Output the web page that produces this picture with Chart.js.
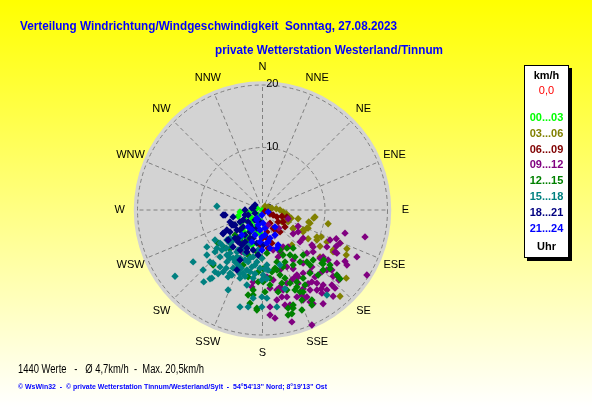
<!DOCTYPE html>
<html lang="de">
<head>
<meta charset="UTF-8">
<title>Verteilung Windrichtung/Windgeschwindigkeit</title>
<script src="https://cdn.jsdelivr.net/npm/chart.js@4.4.0/dist/chart.umd.min.js"></script>
<style>
html,body{margin:0;padding:0;background:#fff}
canvas{display:block}
</style>
</head>
<body>
<canvas id="wind" width="592" height="407"></canvas>
<script>
// Texte
const title1 = 'Verteilung Windrichtung/Windgeschwindigkeit  Sonntag, 27.08.2023';
const title2 = 'private Wetterstation Westerland/Tinnum';
const foot1 = '1440 Werte   -   Ø 4,7km/h  -  Max. 20,5km/h';
const foot2 = "© WsWin32  -  © private Wetterstation Tinnum/Westerland/Sylt  -  54°54'13'' Nord; 8°19'13'' Ost";

const compass = ['N','NNE','NE','ENE','E','ESE','SE','SSE','S','SSW','SW','WSW','W','WNW','NW','NNW'];
const ringTicks = [0, 10, 20];
const hourLabels = ['00...03','03...06','06...09','09...12','12...15','15...18','18...21','21...24'];
const hourColors = ['#00ff00','#808000','#800000','#800080','#008000','#008080','#000080','#0000ff'];

// Werte als [Ost, Nord] in km/h
const w00_03 = [[-3.9,-1.0],[-2.8,-1.6],[-0.7,-0.8],[-3.1,-2.9],[-1.2,-4.0],[-2.8,-4.3],[-1.5,0],[-0.9,0.3],[0,0],
  [-1.7,-1.3],[-1.2,-2.7],[-0.4,-3.7],[-2.5,-4.5],[-1.7,-5.6],[-2.2,-0.5],[-0.3,-1.8],[-3.5,-2.0],[-2.0,-3.3],
  [-3.6,-0.3],[-2.5,-0.5],[-1.7,-1.9],[-3.0,-3.5],[-1.0,-3.2],[-2.2,-4.5]];
const w03_06 = [[0.4,0.6],[0.9,0.5],[1.5,0.3],[2.2,0.2],[2.8,0],[3.3,-0.3],[3.8,-0.6],[4.2,-1.0],[4.6,-1.3],[3.6,-1.6],
  [3.1,-1.9],[4.1,-1.9],[5.7,-1.4],[7.4,-1.9],[8.2,-1.3],[10.5,-2.2],[4.9,-2.9],[7.1,-2.9],[6.5,-3.5],[8.7,-4.3],
  [9.4,-4.3],[7.3,-4.6],[4.7,-5.6],[9.2,-5.8],[12.4,-5.3],[11.3,-6.7],[13.5,-6.2],[13.4,-7.2],[9.2,-7.5],[13.4,-10.9],
  [12.4,-13.8],[10.3,-5.1],[8.4,-1.1],[7.6,-2.1],[4.9,-3.0],[6.5,-3.2],[7.3,-2.9],[8.7,-4.8],[11.3,-6.4]];
const w06_09 = [[0.4,-0.2],[1.2,-0.6],[1.7,-0.8],[2.3,-1.1],[3.1,-1.0],[3.9,-1.1],[3.3,-1.9],[2.5,-1.9],[1.2,-2.1],
  [2.0,-3.2],[1.7,-2.9],[0.7,-3.5],[0,-4.5],[0.7,-4.5],[-0.4,-5.6],[0.9,-6.1],[1.5,-5.3],[2.8,-3.5],[-3.0,-5.9],[3.6,-2.7]];
const w09_12 = [[4.1,-1.4],[5.7,-2.6],[4.9,-3.8],[2.6,-2.9],[6.0,-5.1],[13.2,-3.7],[16.4,-4.3],[11.8,-4.6],[11.8,-5.8],
  [10.3,-5.9],[11.6,-6.7],[8.1,-5.9],[7.1,-6.9],[13.2,-8.2],[2.0,-4.0],[4.1,-5.9],[2.8,-6.7],[16.7,-10.4],[13.5,-8.8],
  [11.9,-8.5],[9.7,-7.5],[10.3,-9.6],[8.7,-11.7],[8.7,-12.8],[10.3,-12.8],[11.3,-13.8],[7.6,-14.7],[6.5,-14.4],
  [5.5,-13.9],[3.9,-13.9],[3.1,-13.9],[2.3,-12.8],[2.8,-12.3],[3.3,-12.8],[3.9,-11.7],[5.2,-10.7],[6.5,-10.1],
  [7.6,-9.9],[7.9,-9.1],[6.5,-8.5],[4.9,-8.0],[3.9,-9.1],[2.8,-9.6],[1.7,-11.2],[0.7,-10.7],[1.2,-12.5],[2.3,-14.4],
  [3.6,-15.2],[1.2,-16.8],[2.0,-17.3],[4.7,-17.9],[7.9,-18.4],[4.4,-15.2],[-1.7,-12.3],[-1.5,-11.5],[-3.3,-6.7],
  [0.9,-2.4],[1.7,-6.4],[2.5,-7.5],[3.3,-5.9],[10.8,-4.8],[15.1,-7.5],[10.5,-8.0],[11.3,-10.6],[12.2,-11.2],
  [11.1,-12.0],[9.4,-12.6],[9.7,-15.0],[6.3,-13.6],[6.5,-12.6],[5.7,-11.7],[4.7,-11.2],[1.2,-15.5],[8.1,-15.0],
  [9.5,-9.9],[8.4,-10.7],[7.3,-11.8],[4.9,-9.4],[5.7,-10.7],[11.9,-6.9],[12.1,-10.7],[11.6,-12.5],[9.7,-12.0],
  [7.9,-11.5],[7.6,-12.8],[9.5,-13.3],[7.1,-13.9],[5.5,-10.4],[7.9,-5.6],[8.1,-6.7],[6.5,-4.5],[5.7,-3.5],
  [9.2,-7.7],[11.1,-9.6],[12.4,-5.3]];
const w12_15 = [[-7.1,-5.3],[-6.0,-6.1],[-5.2,-6.2],[-3.9,-7.7],[-2.3,-7.2],[-0.9,-6.7],[-0.1,-7.7],[0.7,-6.9],
  [2.3,-8.3],[3.3,-7.2],[3.9,-6.1],[4.9,-6.1],[5.2,-7.5],[6.5,-7.2],[7.1,-8.3],[8.1,-8.0],[9.5,-8.5],[9.8,-8.0],
  [10.8,-8.8],[11.9,-10.4],[12.4,-11.0],[9.7,-9.6],[8.9,-10.4],[7.6,-10.1],[6.5,-10.9],[5.5,-12.3],[4.4,-11.7],
  [3.6,-10.9],[2.8,-10.4],[2.3,-9.6],[1.2,-10.9],[0.1,-11.5],[-0.7,-11.5],[-1.5,-12.8],[-2.3,-13.6],[-2.0,-14.9],
  [-0.9,-15.7],[0.4,-13.1],[4.1,-15.7],[4.9,-15.7],[6.3,-14.4],[6.5,-13.1],[7.9,-14.4],[4.7,-16.6],[-3.6,-4.8],
  [-2.5,-5.1],[-7.9,-8.8],[-3.1,-8.8],[-2.3,-10.7],[-1.5,-13.6],[-0.9,-16.0],[-0.7,-9.9],[0.1,-9.4],[1.5,-9.9],
  [3.9,-12.8],[4.9,-15.2],[4.1,-16.8],[6.3,-16.0],[7.9,-15.2],[6.0,-13.1],[9.7,-8.6],[10.8,-9.4],[3.3,-9.1],
  [5.5,-11.5],[-4.4,-4.0],[-2.0,-3.5],[2.8,-6.4],[4.4,-7.2],[3.6,-8.3],[4.9,-8.8],[6.0,-8.3],[2.0,-9.3],
  [3.1,-11.7],[5.2,-12.8],[6.8,-12.0],[7.6,-8.8],[1.2,-12.0],[2.5,-13.1]];
const w15_18 = [[-7.3,0.6],[-8.9,-5.9],[-8.9,-7.2],[-8.4,-8.3],[-11.1,-8.3],[-7.9,-8.5],[-9.5,-9.6],[-8.1,-10.9],
  [-14.0,-10.6],[-6.8,-9.1],[-6.3,-9.9],[-5.2,-10.1],[-4.7,-9.3],[-3.9,-8.8],[-5.7,-8.3],[-5.2,-7.7],[-4.1,-7.5],
  [-3.6,-7.7],[-2.8,-8.0],[-2.0,-7.7],[-1.5,-7.5],[-0.7,-7.2],[-0.9,-8.3],[-1.7,-9.1],[-2.5,-9.6],[-3.1,-10.1],
  [-3.6,-10.9],[-1.5,-10.9],[-0.1,-11.2],[-0.1,-13.9],[0.7,-14.1],[-1.5,-14.1],[-3.6,-15.5],[-5.5,-12.8],[0.7,-8.8],
  [-5.7,-4.8],[-5.2,-5.3],[-4.7,-4.8],[-6.5,-6.4],[-7.6,-6.7],[-7.3,-6.1],[-6.5,-5.6],[-5.2,-4.5],[-3.6,-4.5],
  [-5.2,-6.9],[-4.1,-6.7],[-6.8,-7.5],[-2.8,-6.9],[-0.7,-6.4],[-9.4,-11.5],[-7.6,-9.9],[-5.5,-10.7],[-4.9,-10.4],
  [-4.1,-9.4],[-2.5,-12.0],[-3.6,-10.2],[-2.3,-15.5],[-0.1,-15.5],[-1.2,-10.2],[0.1,-10.4],[0.4,-9.4],[0.7,-11.0],
  [3.6,-12.6],[2.3,-15.5],[10.3,-13.6],[2.8,-8.8],[-8.4,-11.0],[-7.6,-4.8],[-6.8,-5.3],[-5.8,-6.1],[-4.9,-5.9],
  [-3.9,-6.4],[-3.1,-6.1],[-2.3,-8.3],[-1.2,-8.8],[-0.4,-9.3],[-4.4,-8.3],[-3.4,-9.3],[-2.8,-10.6],[-2.0,-9.9],
  [-5.8,-9.3],[-7.1,-10.2],[-4.7,-7.7],[-5.7,-7.2],[-2.3,-5.6],[-0.1,-7.7],[0.9,-9.6]];
const w18_21 = [[-1.5,0.3],[-6.0,-0.8],[-3.6,-1.9],[-4.4,-2.4],[-5.2,-3.5],[-6.3,-3.8],[-4.1,-3.2],[-3.1,-2.7],
  [-2.3,-1.9],[-2.8,-4.0],[-3.9,-5.1],[-3.3,-5.6],[-2.0,-4.5],[-0.9,-2.9],[-0.4,-1.9],[-1.7,-2.9],[-0.9,-5.3],
  [-1.5,-6.4],[-5.7,-3.2],[-4.9,-2.4],[-3.9,-4.5],[-4.7,-5.9],[-3.1,-1.6],[-2.8,0.0],[-1.7,0.3],[-1.2,-0.5],
  [-2.0,-3.5],[-1.5,-4.5],[0.1,-5.6],[-2.5,-6.1],[-3.6,-6.4],[-0.7,-7.2],[-4.1,-9.6],[-2.5,-6.7],[-5.5,-4.8],
  [-4.7,-1.1],[-2.3,-0.8],[-1.2,0.8],[-6.3,-0.8],[-4.7,-2.4],[-6.3,-3.7],[-5.5,-4.8],[-3.6,-8.0],[-2.8,-0.8],
  [-3.6,-3.2],[-4.4,-4.5],[-2.0,-2.4],[-2.8,-5.1],[-1.2,-1.6],[-5.2,-1.9]];
const w21_24 = [[-0.9,-1.6],[-0.7,-2.4],[-0.4,-3.2],[0.1,-2.1],[0.4,-4.0],[0.9,-5.1],[1.2,-6.1],[2.0,-4.0],[2.5,-5.6],
  [-2.3,-2.7],[-1.7,-5.1],[-0.4,-5.1],[2.0,-2.7],[-0.9,-1.3],[-0.1,-4.3],[0.7,-5.3],[2.3,-6.1],[-0.1,-0.8],
  [-1.7,-3.2],[-1.2,-4.0],[0.4,-2.9],[1.2,-4.5],[0.9,-0.3],[-3.3,-4.0],[-0.1,-6.4]];

const allSeries = [w00_03, w03_06, w06_09, w09_12, w12_15, w15_18, w18_21, w21_24];

const R = 22.72; // Achsenbereich in km/h

function fitText(ctx, txt, x, y, w){
  const m = ctx.measureText(txt).width;
  ctx.save();
  ctx.translate(x, y);
  ctx.scale(w / m, 1);
  ctx.fillText(txt, 0, 0);
  ctx.restore();
}

const windBack = {
  id: 'windBack',
  beforeDraw(chart){
    const {ctx, width, height, scales:{x, y}} = chart;
    const g = ctx.createLinearGradient(0, 0, 0, height);
    g.addColorStop(0, '#ffff00');
    g.addColorStop(1, '#ffffff');
    ctx.save();
    ctx.fillStyle = g;
    ctx.fillRect(0, 0, width, height);

    const cx = x.getPixelForValue(0), cy = y.getPixelForValue(0);
    const px = v => x.getPixelForValue(v) - cx;

    // Scheibe
    ctx.fillStyle = '#d3d3d3';
    ctx.beginPath();
    ctx.arc(cx, cy, px(20.6), 0, Math.PI * 2);
    ctx.fill();

    // Ringe und Strahlen
    ctx.strokeStyle = '#808080';
    ctx.lineWidth = 1;
    ctx.setLineDash([4, 3]);
    ringTicks.filter(r => r > 0).forEach(r => {
      ctx.beginPath();
      ctx.arc(cx, cy, px(r), 0, Math.PI * 2);
      ctx.stroke();
    });
    const rMax = ringTicks[ringTicks.length - 1];
    compass.forEach((c, i) => {
      const a = i * Math.PI / 8;
      ctx.beginPath();
      ctx.moveTo(cx, cy);
      ctx.lineTo(x.getPixelForValue(rMax * Math.sin(a)), y.getPixelForValue(rMax * Math.cos(a)));
      ctx.stroke();
    });
    ctx.setLineDash([]);

    // Beschriftung
    ctx.fillStyle = '#000';
    ctx.font = '11px "Liberation Sans", Arial, sans-serif';
    ctx.textAlign = 'center';
    ctx.textBaseline = 'middle';
    compass.forEach((c, i) => {
      const a = i * Math.PI / 8;
      ctx.fillText(c, x.getPixelForValue(22.85 * Math.sin(a)), y.getPixelForValue(22.85 * Math.cos(a)));
    });
    ctx.textAlign = 'left';
    ringTicks.forEach(r => {
      ctx.fillText(String(r), x.getPixelForValue(0.6), y.getPixelForValue(r) - 1);
    });

    // Titel
    ctx.fillStyle = '#0000ff';
    ctx.font = 'bold 13px "Liberation Sans", Arial, sans-serif';
    ctx.textBaseline = 'alphabetic';
    fitText(ctx, title1, 20, 29.5, 377);
    fitText(ctx, title2, 215, 54, 228);

    // Fusszeilen
    ctx.fillStyle = '#000';
    ctx.font = '12px "Liberation Sans", Arial, sans-serif';
    fitText(ctx, foot1, 18, 373, 186);
    ctx.fillStyle = '#0000ff';
    ctx.font = 'bold 8px "Liberation Sans", Arial, sans-serif';
    fitText(ctx, foot2, 18, 389, 309);
    ctx.restore();
  }
};

const windLegend = {
  id: 'windLegend',
  afterDraw(chart){
    const {ctx} = chart;
    const bx = 524, by = 65, bw = 45, bh = 193;
    ctx.save();
    ctx.fillStyle = '#000';
    ctx.fillRect(bx + 3, by + 3, bw, bh);
    ctx.fillStyle = '#fff';
    ctx.fillRect(bx, by, bw, bh);
    ctx.strokeStyle = '#000';
    ctx.lineWidth = 1;
    ctx.strokeRect(bx + 0.5, by + 0.5, bw - 1, bh - 1);

    const mx = bx + bw / 2;
    ctx.textAlign = 'center';
    ctx.textBaseline = 'middle';
    ctx.font = 'bold 11px "Liberation Sans", Arial, sans-serif';
    ctx.fillStyle = '#000';
    ctx.fillText('km/h', mx, 76);
    ctx.font = '11px "Liberation Sans", Arial, sans-serif';
    ctx.fillStyle = '#ff0000';
    ctx.fillText('0,0', mx, 91);
    ctx.font = 'bold 11px "Liberation Sans", Arial, sans-serif';
    chart.data.datasets.forEach((ds, i) => {
      ctx.fillStyle = ds.backgroundColor;
      ctx.fillText(ds.label, mx, 118 + i * 15.8);
    });
    ctx.fillStyle = '#000';
    ctx.fillText('Uhr', mx, 247);
    ctx.restore();
  }
};

// zeitliche Reihenfolge: spaetere Stunden liegen oben
new Chart(document.getElementById('wind'), {
  type: 'scatter',
  data: {
    datasets: allSeries.map((s, i) => ({
      label: hourLabels[i],
      data: s.map(([e, n]) => ({x: e, y: n})),
      backgroundColor: hourColors[i],
      borderWidth: 0,
      pointStyle: 'rectRot',
      pointRadius: 3.7,
      pointHoverRadius: 3.7,
      order: allSeries.length - i
    }))
  },
  options: {
    responsive: false,
    animation: false,
    events: [],
    layout: {padding: {left: 120.5, right: 187.5, top: 68, bottom: 55}},
    scales: {
      x: {type: 'linear', min: -R, max: R, display: false},
      y: {type: 'linear', min: -R, max: R, display: false}
    },
    plugins: {legend: {display: false}, tooltip: {enabled: false}}
  },
  plugins: [windBack, windLegend]
});
</script>
</body>
</html>
